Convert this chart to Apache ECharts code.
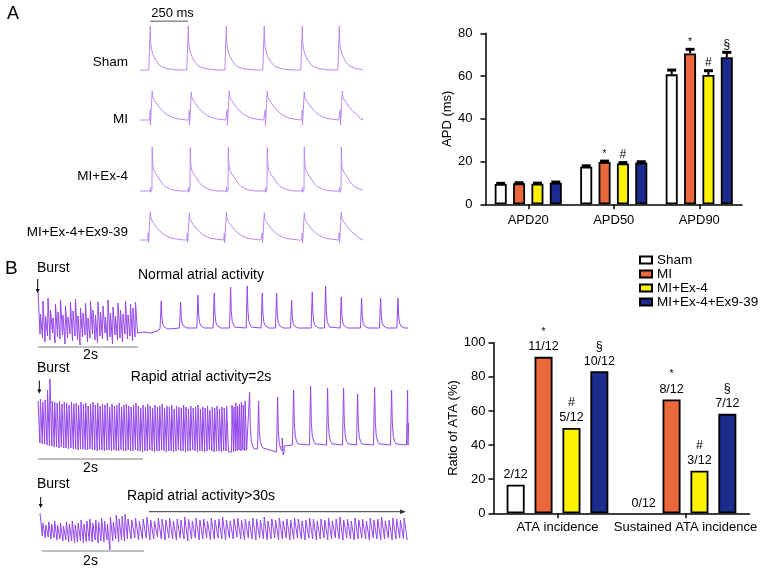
<!DOCTYPE html>
<html>
<head>
<meta charset="utf-8">
<title>APD and ATA</title>
<script src="https://cdn.jsdelivr.net/npm/echarts@6/dist/echarts.min.js"></script>
<style>
html, body { margin: 0; padding: 0; background: #fff; }
#chart { width: 765px; height: 570px; }
</style>
</head>
<body>
<div id="chart"></div>
<script>
// ---------- groups ----------
var groups = ['Sham', 'MI', 'MI+Ex-4', 'MI+Ex-4+Ex9-39'];
var groupColors = ['#ffffff', '#ea683c', '#fbf100', '#1b2b8e'];

// ---------- APD bar chart ----------
var apdCats = ['APD20', 'APD50', 'APD90'];
var apdTicks = [0, 20, 40, 60, 80];
var apdSham = [9.5, 17.6, 60.8];
var apdMI = [9.8, 19.8, 70.6];
var apdEx4 = [9.6, 19.1, 60.5];
var apdEx939 = [10.1, 19.5, 68.8];
var apdShamErr = [0.3, 0.4, 2.0];
var apdMIErr = [0.3, 0.4, 1.9];
var apdEx4Err = [0.3, 0.4, 2.0];
var apdEx939Err = [0.3, 0.4, 2.3];
var apdShamMark = ['', '', ''];
var apdMIMark = ['', '*', '*'];
var apdEx4Mark = ['', '#', '#'];
var apdEx939Mark = ['', '', '§'];

// ---------- ATA bar chart ----------
var ataCats = ['ATA incidence', 'Sustained ATA incidence'];
var ataTicks = [0, 20, 40, 60, 80, 100];
var ataSham = [16.7, 0];
var ataMI = [91.7, 66.7];
var ataEx4 = [50, 25];
var ataEx939 = [83.3, 58.3];
var ataShamLbl = ['2/12', '0/12'];
var ataMILbl = ['11/12', '8/12'];
var ataEx4Lbl = ['5/12', '3/12'];
var ataEx939Lbl = ['10/12', '7/12'];
var ataShamMark = ['', ''];
var ataMIMark = ['*', '*'];
var ataEx4Mark = ['#', '#'];
var ataEx939Mark = ['§', '§'];

// ---------- panel A action potentials (ms, mV-like units) ----------
var apSpan = [0, 1470];
var apBeatsSham = [66, 318, 570, 821, 1073, 1318];
var apBeatsMI = [79, 338, 589, 841, 1086, 1338];
var apBeatsEx4 = [79, 331, 583, 841, 1086, 1331];
var apBeatsEx939 = [66, 325, 570, 821, 1086, 1331];
var apAmpSham = [100, 100, 100, 100, 100, 100];
var apAmpMI = [66, 64, 66, 66, 64, 66];
var apAmpEx4 = [100, 99, 99, 99, 100, 100];
var apAmpEx939 = [64, 62, 63, 62, 62, 64];
// beat shapes: [ms from upstroke, fraction of amplitude]
var apShapeSham = [[-8, 0], [-4, 0.03], [-2, 0], [0, 0.02], [2, 1], [4, 0.68], [8, 0.5], [15, 0.41], [25, 0.31], [40, 0.21], [60, 0.12], [80, 0.07], [110, 0.035], [150, 0.012], [200, 0]];
var apShapeMI = [[-14, 0], [-12, 0.35], [-10, -0.18], [-8, 0.02], [-3, 0.04], [0, 0.08], [2, 1], [4, 0.82], [10, 0.74], [20, 0.66], [30, 0.58], [50, 0.43], [73, 0.3], [100, 0.18], [139, 0.08], [180, 0.03], [230, 0]];
var apShapeEx4 = [[-12, 0], [-10, 0.08], [-9, -0.03], [-7, 0], [0, 0.03], [2, 1], [4, 0.7], [8, 0.54], [15, 0.45], [25, 0.39], [44, 0.3], [65, 0.18], [88, 0.1], [132, 0.03], [180, 0]];
var apShapeEx939 = [[-14, 0], [-12, 0.25], [-10, -0.1], [-8, 0.02], [-3, 0.04], [0, 0.08], [2, 1], [4, 0.82], [10, 0.72], [20, 0.63], [30, 0.55], [50, 0.41], [73, 0.28], [100, 0.17], [139, 0.07], [180, 0.03], [230, 0]];
var apScaleBar = [66, 318];

// ---------- panel B atrial recordings (ms, mV-like units) ----------
var bSpan = [0, 7400];
var bSpikeShape = [[-10, 0], [0, 0], [12, 1], [26, 0.4], [45, 0.16], [70, 0.07], [100, 0.02], [140, 0]];

// B1: normal atrial activity after burst
var b1BurstSpan = [0, 2000];
var b1BurstPeak = [36, 14, 27, 12, 30, 18, 10, 24, 16, 28, 13, 22, 11, 26, 17, 29, 12, 20, 15, 25, 10, 27, 18, 13, 26, 16, 22, 11, 28, 15, 21, 12, 25, 18, 14, 27, 13, 24, 20, 26];
var b1BurstTrough = [-6, -10, -14, -8, -12, -5, -15, -9, -11, -7, -16, -10, -6, -13, -8, -12, -17, -9, -7, -14, -10, -6, -12, -15, -8, -11, -5, -13, -9, -16, -7, -12, -10, -14, -6, -11, -8, -13, -9, -5];
var b1Tail = [[2000, -3], [2120, -4], [2260, -5], [2380, -3], [2440, -1], [7400, 0]];
var b1Beats = [2453, 2840, 3187, 3513, 3840, 4173, 4473, 4760, 5060, 5473, 5740, 6053, 6460, 6840, 7187];
var b1Amps = [28, 26, 33, 35, 41, 42, 35, 35, 28, 36, 42, 31, 30, 30, 30];
var b1Base = [-1, 0, 0, 0, 0, 0, 0, 0, 0, 0, 0, 0, 0, 0, 0];

// B2: rapid atrial activity lasting 2 s
var b2Dense1Span = [0, 3820];
var b2Dense1Peak = [44, 46, 43, 45, 55, 66, 44, 43, 42, 44, 41, 43, 42, 40, 43, 41, 42, 40, 43, 41, 42, 39, 41, 43, 40, 42, 39, 41, 40, 42, 38, 41, 39, 40, 42, 38, 40, 41, 39, 38, 40, 42, 39, 37, 40, 38, 41, 39, 37, 40, 38, 39, 41, 37, 39, 38, 40, 36, 39, 38, 37, 40, 38, 36, 39, 37, 38, 40, 36, 38, 37, 39, 35, 38, 37, 39, 36, 38, 37, 39];
var b2Dense1Trough = [2, 1, 1, 0, -1, -1, -2, -2, -3, -2, -3, -3, -4, -3, -4, -4, -5, -4, -4, -5, -5, -4, -5, -5, -6, -5, -5, -6, -5, -5, -6, -5, -6, -6, -5, -6, -6, -5, -6, -6, -5, -6, -6, -7, -6, -6, -5, -6, -7, -6, -6, -5, -6, -7, -6, -6, -7, -6, -5, -6, -6, -7, -6, -6, -5, -6, -7, -6, -6, -7, -6, -5, -6, -7, -6, -6, -7, -6, -6, -7];
var b2Dense2Span = [3880, 4180];
var b2Dense2Peak = [40, 38, 42, 39, 41, 43, 40, 44];
var b2Dense2Trough = [-7, -6, -6, -5, -6, -5, -6, -5];
var b2Gap = [[3830, -7], [3870, -7], [4870, -3], [4885, 7], [4905, -10], [4925, -1], [7400, 0]];
var b2Beats = [4220, 4400, 4780, 5100, 5440, 5780, 6100, 6380, 6720, 7060, 7380];
var b2Amps = [58, 48, 55, 55, 59, 57, 57, 51, 58, 55, 55];
var b2Base = [-5, -4, -7, 0, 0, 0, 0, 0, 0, 0, 0];

// B3: rapid atrial activity lasting > 30 s
var b3Part1Span = [40, 1800];
var b3Part1Peak = [20, 10, 8, 11, 9, 12, 8, 10, 7, 11, 9, 12, 8, 10, 13, 9, 12, 14, 10, 13, 11, 15, 12, 9, 16, 11, 18, 14, 17, 19];
var b3Part1Trough = [-3, -5, -4, -6, -5, -7, -6, -8, -7, -9, -8, -10, -9, -8, -10, -9, -8, -9, -7, -10, -8, -9, -7, -17, -8, -6, -9, -7, -8, -6];
var b3Part2Span = [1800, 7400];
var b3Part2Peak = [14, 13, 15, 12, 14, 16, 13, 12, 15, 14, 13, 15, 12, 14, 13, 16, 14, 12, 15, 13, 14, 12, 15, 13, 14, 16, 13, 12, 14, 15, 13, 14, 12, 15, 14, 13, 16, 12, 14, 13, 15, 12, 14, 13, 15, 14, 12, 13, 15, 14, 12, 14, 13, 15, 12, 14, 16, 13, 14, 12, 15, 13, 14, 12, 15, 13, 14, 16, 12, 13, 15, 14, 13, 15];
var b3Part2Trough = [-6, -5, -7, -6, -5, -7, -6, -4, -6, -7, -5, -6, -7, -5, -6, -8, -6, -5, -7, -6, -5, -7, -6, -5, -6, -7, -5, -6, -4, -6, -7, -5, -6, -7, -5, -6, -7, -6, -5, -7, -6, -5, -7, -6, -5, -6, -7, -5, -6, -7, -6, -5, -7, -6, -5, -6, -7, -5, -6, -7, -6, -5, -6, -7, -5, -6, -7, -6, -5, -7, -6, -5, -6, -7];
var bScaleBars = [[0, 2000], [0, 2100], [80, 2120]];

// ---------- builders ----------
function beatTrain(times, amps, shape, bases) {
    var pts = [];
    times.forEach(function (t, i) {
        var b = bases ? bases[i] : 0;
        shape.forEach(function (s) { pts.push([t + s[0], b + amps[i] * s[1]]); });
    });
    return pts;
}
function sawTrain(span, peaks, troughs) {
    var pts = [], dt = (span[1] - span[0]) / peaks.length;
    peaks.forEach(function (p, i) {
        pts.push([span[0] + i * dt, p]);
        pts.push([span[0] + (i + 0.8) * dt, troughs[i] !== undefined ? troughs[i] : 0]);
    });
    return pts;
}
function merge() {
    var all = [];
    for (var i = 0; i < arguments.length; i++) all = all.concat(arguments[i]);
    return all.sort(function (a, b) { return a[0] - b[0]; });
}

var font = "'Liberation Sans', Arial, Helvetica, sans-serif";
var apColor = '#b98af0';
var bColor = '#9446ea';

// ---------- grids ----------
var grids = [
    { left: 485.5, top: 33.3, width: 256.5, height: 171 },   // 0 APD
    { left: 493.5, top: 342.7, width: 256, height: 170.6 },  // 1 ATA
    { left: 140, top: 19.4, width: 222, height: 59.4 },      // 2 Sham
    { left: 140, top: 84.8, width: 222, height: 44 },        // 3 MI
    { left: 140, top: 142.6, width: 222, height: 57.2 },     // 4 MI+Ex-4
    { left: 140, top: 204.8, width: 222, height: 44 },       // 5 MI+Ex-4+Ex9-39
    { left: 38, top: 288, width: 370, height: 62 },          // 6 B1
    { left: 38, top: 379, width: 370, height: 83 },          // 7 B2
    { left: 38, top: 508, width: 370, height: 47 }           // 8 B3
];
grids.forEach(function (g) { g.containLabel = false; g.outerBoundsMode = 'none'; });
var traceY = [[-20, 115], [-20, 80], [-20, 110], [-20, 80], [-22, 40], [-17, 66], [-22, 25]];

var axisLineStyle = { show: true, lineStyle: { color: '#000', width: 1.5 } };
var tickStyle = { show: true, length: 5, lineStyle: { color: '#000', width: 1.5 } };
var labelStyle = { color: '#000', fontSize: 13, fontFamily: font };

var xAxes = [
    { gridIndex: 0, type: 'category', data: apdCats, axisLine: axisLineStyle,
      axisTick: Object.assign({ alignWithLabel: true }, tickStyle),
      axisLabel: Object.assign({ margin: 10, interval: 0 }, labelStyle) },
    { gridIndex: 1, type: 'category', data: ataCats, axisLine: axisLineStyle,
      axisTick: Object.assign({ alignWithLabel: true }, tickStyle),
      axisLabel: Object.assign({ margin: 8, interval: 0, hideOverlap: false }, labelStyle) }
];
var yAxes = [
    { gridIndex: 0, type: 'value', min: apdTicks[0], max: apdTicks[apdTicks.length - 1], interval: 20,
      name: 'APD (ms)', nameLocation: 'middle', nameGap: 31,
      nameTextStyle: { color: '#000', fontSize: 13, fontFamily: font },
      axisLine: axisLineStyle, axisTick: tickStyle, splitLine: { show: false },
      axisLabel: Object.assign({ margin: 13 }, labelStyle) },
    { gridIndex: 1, type: 'value', min: ataTicks[0], max: ataTicks[ataTicks.length - 1], interval: 20,
      name: 'Ratio of ATA (%)', nameLocation: 'middle', nameGap: 29,
      nameTextStyle: { color: '#000', fontSize: 13, fontFamily: font },
      axisLine: axisLineStyle, axisTick: tickStyle, splitLine: { show: false },
      axisLabel: Object.assign({ margin: 8 }, labelStyle) }
];
for (var g = 2; g < grids.length; g++) {
    var span = g < 6 ? apSpan : bSpan;
    xAxes.push({ gridIndex: g, type: 'value', min: span[0], max: span[1], show: false });
    yAxes.push({ gridIndex: g, type: 'value', min: traceY[g - 2][0], max: traceY[g - 2][1], show: false });
}

// ---------- series ----------
var series = [];
var apdVals = [apdSham, apdMI, apdEx4, apdEx939];
var apdErrs = [apdShamErr, apdMIErr, apdEx4Err, apdEx939Err];
var apdMarks = [apdShamMark, apdMIMark, apdEx4Mark, apdEx939Mark];
var ataVals = [ataSham, ataMI, ataEx4, ataEx939];
var ataLbls = [ataShamLbl, ataMILbl, ataEx4Lbl, ataEx939Lbl];
var ataMarks = [ataShamMark, ataMIMark, ataEx4Mark, ataEx939Mark];

var apdBarW = 12, apdGap = 0.53;
var apdStep = apdBarW * (1 + apdGap);

groups.forEach(function (name, gi) {
    series.push({
        name: name, type: 'bar', xAxisIndex: 0, yAxisIndex: 0, data: apdVals[gi],
        barWidth: apdBarW, barGap: (apdGap * 100) + '%',
        itemStyle: { color: groupColors[gi], borderColor: '#000', borderWidth: 1.8 }
    });
});
groups.forEach(function (name, gi) {
    series.push({
        name: name, type: 'bar', xAxisIndex: 1, yAxisIndex: 1,
        data: ataVals[gi].map(function (v) {
            return v === 0 ? { value: v, itemStyle: { borderWidth: 0 } } : v;
        }),
        barWidth: 18, barGap: '55%',
        itemStyle: { color: groupColors[gi], borderColor: '#000', borderWidth: 1.8 },
        label: {
            show: true, position: 'top', distance: 3,
            formatter: function (p) {
                var m = ataMarks[gi][p.dataIndex];
                var key = m === '*' ? 's' : 'm';
                return (m ? '{' + key + '|' + m + '}\n' : '') + '{f|' + ataLbls[gi][p.dataIndex] + '}';
            },
            rich: {
                f: { fontSize: 12.5, lineHeight: 14, color: '#000', fontFamily: font },
                m: { fontSize: 12.5, lineHeight: 16, color: '#000', fontFamily: font },
                s: { fontSize: 10, lineHeight: 16, color: '#000', fontFamily: font }
            }
        }
    });
});
// error bars and significance marks for APD
groups.forEach(function (name, gi) {
    series.push({
        name: 'err-' + name, type: 'custom', xAxisIndex: 0, yAxisIndex: 0, z: 5, silent: true,
        data: apdVals[gi].map(function (m, i) { return [i, m, apdErrs[gi][i]]; }),
        renderItem: function (params, api) {
            var i = api.value(0);
            var lo = api.coord([i, api.value(1)]);
            var hi = api.coord([i, api.value(1) + api.value(2)]);
            var x = lo[0] + (gi - 1.5) * apdStep;
            var kids = [
                { type: 'line', shape: { x1: x, y1: lo[1], x2: x, y2: hi[1] }, style: { stroke: '#000', lineWidth: 2 } },
                { type: 'line', shape: { x1: x - 4.5, y1: hi[1], x2: x + 4.5, y2: hi[1] }, style: { stroke: '#000', lineWidth: 3 } }
            ];
            var mk = apdMarks[gi][i];
            if (mk) {
                kids.push({ type: 'text', x: x, y: hi[1] - 2,
                    style: { text: mk, fill: '#000', fontFamily: font, fontSize: mk === '*' ? 10 : 12,
                             align: 'center', verticalAlign: 'bottom' } });
            }
            return { type: 'group', children: kids };
        }
    });
});

function trace(gridIdx, data, color) {
    return { type: 'line', xAxisIndex: gridIdx, yAxisIndex: gridIdx, data: data, symbol: 'none',
             showSymbol: false, silent: true, clip: false,
             lineStyle: { color: color, width: 1 } };
}
// panel A traces
series.push(trace(2, merge([[apSpan[0], 0], [apSpan[1], 0]], beatTrain(apBeatsSham, apAmpSham, apShapeSham)), apColor));
series.push(trace(3, merge([[apSpan[0], 0], [apSpan[1], 0]], beatTrain(apBeatsMI, apAmpMI, apShapeMI)), apColor));
series.push(trace(4, merge([[apSpan[0], 0], [apSpan[1], 0]], beatTrain(apBeatsEx4, apAmpEx4, apShapeEx4)), apColor));
series.push(trace(5, merge([[apSpan[0], 0], [apSpan[1], 0]], beatTrain(apBeatsEx939, apAmpEx939, apShapeEx939)), apColor));
series.push(trace(2, [[apScaleBar[0], 111], [apScaleBar[1], 111]], '#555'));

// panel B traces
series.push(trace(6, merge(sawTrain(b1BurstSpan, b1BurstPeak, b1BurstTrough), b1Tail,
    beatTrain(b1Beats, b1Amps, bSpikeShape, b1Base)), bColor));
series.push(trace(7, merge(sawTrain(b2Dense1Span, b2Dense1Peak, b2Dense1Trough),
    sawTrain(b2Dense2Span, b2Dense2Peak, b2Dense2Trough), b2Gap,
    beatTrain(b2Beats, b2Amps, bSpikeShape, b2Base)), bColor));
series.push(trace(8, merge(sawTrain(b3Part1Span, b3Part1Peak, b3Part1Trough),
    sawTrain(b3Part2Span, b3Part2Peak, b3Part2Trough)), bColor));
series.push(trace(6, [[bScaleBars[0][0], -19], [bScaleBars[0][1], -19]], '#808080'));
series.push(trace(7, [[bScaleBars[1][0], -14], [bScaleBars[1][1], -14]], '#808080'));
series.push(trace(8, [[bScaleBars[2][0], -18], [bScaleBars[2][1], -18]], '#808080'));

// ---------- text annotations ----------
function txt(x, y, s, size, align) {
    return { type: 'text', x: x, y: y, silent: true,
             style: { text: s, fontSize: size, fontFamily: font, fill: '#000',
                      align: align || 'left', verticalAlign: 'middle' } };
}
function downArrow(x, y0, y1) {
    return [
        { type: 'line', silent: true, shape: { x1: x, y1: y0, x2: x, y2: y1 - 3 }, style: { stroke: '#000', lineWidth: 1 } },
        { type: 'polygon', silent: true, shape: { points: [[x - 2, y1 - 4], [x + 2, y1 - 4], [x, y1]] }, style: { fill: '#000' } }
    ];
}
var graphics = [
    txt(7, 14.5, 'A', 18), txt(5, 268.5, 'B', 19),
    txt(172.5, 13.5, '250 ms', 13, 'center'),
    txt(128, 62.5, 'Sham', 13.5, 'right'),
    txt(128, 119, 'MI', 13.5, 'right'),
    txt(128, 176, 'MI+Ex-4', 13.5, 'right'),
    txt(128, 232, 'MI+Ex-4+Ex9-39', 13.5, 'right'),
    txt(37, 268.5, 'Burst', 14), txt(37, 368, 'Burst', 14), txt(37, 484, 'Burst', 14),
    txt(201, 275.5, 'Normal atrial activity', 14, 'center'),
    txt(201, 377.5, 'Rapid atrial activity=2s', 14, 'center'),
    txt(201, 496, 'Rapid atrial activity>30s', 14, 'center'),
    txt(90.5, 355, '2s', 14, 'center'), txt(90.5, 468.5, '2s', 14, 'center'), txt(90.5, 561, '2s', 14, 'center'),
    { type: 'line', silent: true, shape: { x1: 149, y1: 511.7, x2: 401, y2: 511.7 }, style: { stroke: '#333', lineWidth: 1 } },
    { type: 'polygon', silent: true, shape: { points: [[400, 509.5], [400, 514], [406, 511.7]] }, style: { fill: '#333' } }
].concat(downArrow(37.7, 279, 293), downArrow(39.3, 380.5, 393.5), downArrow(40.7, 497, 508));

var chart = echarts.init(document.getElementById('chart'), null, { renderer: 'canvas' });
chart.setOption({
    animation: false,
    backgroundColor: '#fff',
    textStyle: { fontFamily: font },
    grid: grids,
    xAxis: xAxes,
    yAxis: yAxes,
    legend: {
        data: groups, orient: 'vertical', left: 639, top: 253, padding: 0,
        itemWidth: 12, itemHeight: 7, itemGap: 0, icon: 'rect', selectedMode: false,
        textStyle: { color: '#000', fontSize: 13.5, lineHeight: 12.5, fontFamily: font }
    },
    series: series,
    graphic: graphics
});
</script>
</body>
</html>
